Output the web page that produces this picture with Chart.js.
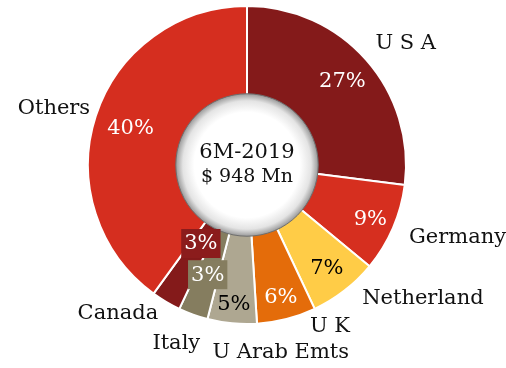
<!DOCTYPE html>
<html>
<head>
<meta charset="utf-8">
<script src="https://cdn.jsdelivr.net/npm/chart.js@4.4.1/dist/chart.umd.min.js"></script>
<style>
  html, body { margin: 0; padding: 0; background: #fff; }
  #wrap { width: 506px; height: 368px; }
</style>
</head>
<body>
<div id="wrap"><canvas id="exportChart"></canvas></div>
<script>
// Export share by destination, 6M-2019
const countries = ['U S A', 'Germany', 'Netherland', 'U K', 'U Arab Emts', 'Italy', 'Canada', 'Others'];
const shares = [27, 9, 7, 6, 5, 3, 3, 40];
const centerTitle = '6M-2019';
const centerTotal = '$ 948 Mn';

const sliceColors = ['#841a1a', '#d62f1f', '#ffcc47', '#e46c0a', '#aea791', '#857d5f', '#841a1a', '#d52e1f'];
const pctColors = ['#fff', '#fff', '#000', '#fff', '#000', '#fff', '#fff', '#fff'];
const pctBoxes = [null, null, null, null, null, '#857d5f', '#8b1c1c', null];
// label radius as a fraction of the outer radius
const pctRadius = [0.80, 0.845, 0.82, 0.855, 0.875, 0.73, 0.57, 0.77];
// small nudges for the outside category names
const nameNudge = [[-4, -5], [0, 2], [7, -6], [19, -9], [-18, 12], [13, 12], [1, -3], [11, -2]];

const FONT = '"DejaVu Serif", Georgia, serif';

const donutLabels = {
  id: 'donutLabels',
  afterDatasetsDraw(chart) {
    const ctx = chart.ctx;
    const arcs = chart.getDatasetMeta(0).data;
    if (!arcs.length) return;
    const first = arcs[0].getProps(['x', 'y', 'innerRadius', 'outerRadius'], true);
    const cx = first.x, cy = first.y, R = first.outerRadius;

    // centre disc with soft inner shading
    const r = first.innerRadius * 1.12;
    ctx.save();
    const g = ctx.createRadialGradient(cx, cy, 0, cx, cy, r);
    g.addColorStop(0, '#ffffff');
    g.addColorStop(0.74, '#ffffff');
    g.addColorStop(0.9, '#e4e4e4');
    g.addColorStop(1, '#9a9a9a');
    ctx.beginPath();
    ctx.arc(cx, cy, r, 0, Math.PI * 2);
    ctx.fillStyle = g;
    ctx.fill();
    ctx.lineWidth = 1;
    ctx.strokeStyle = '#6e6e6e';
    ctx.stroke();

    ctx.fillStyle = '#111';
    ctx.textAlign = 'center';
    ctx.textBaseline = 'middle';
    ctx.font = '21px ' + FONT;
    ctx.fillText(centerTitle, cx, cy - 12);
    ctx.font = '19px ' + FONT;
    ctx.fillText(centerTotal, cx, cy + 12);

    arcs.forEach((arc, i) => {
      const p = arc.getProps(['startAngle', 'endAngle'], true);
      const mid = (p.startAngle + p.endAngle) / 2;
      const cos = Math.cos(mid), sin = Math.sin(mid);

      // percentage inside the slice
      const pr = R * pctRadius[i];
      const px = cx + cos * pr, py = cy + sin * pr;
      const txt = shares[i] + '%';
      ctx.font = '21px ' + FONT;
      if (pctBoxes[i]) {
        const w = ctx.measureText(txt).width + 6;
        ctx.fillStyle = pctBoxes[i];
        ctx.fillRect(px - w / 2, py - 14, w, 29);
      }
      ctx.fillStyle = pctColors[i];
      ctx.textAlign = 'center';
      ctx.fillText(txt, px, py + 1);

      // category name outside the ring
      const nr = R * 1.11;
      const nx = cx + cos * nr + nameNudge[i][0];
      const ny = cy + sin * nr + nameNudge[i][1];
      ctx.fillStyle = '#111';
      ctx.textAlign = cos > -0.1 ? 'left' : 'right';
      ctx.fillText(countries[i], nx, ny);
    });
    ctx.restore();
  }
};

new Chart(document.getElementById('exportChart'), {
  type: 'doughnut',
  data: {
    labels: countries,
    datasets: [{
      data: shares,
      backgroundColor: sliceColors,
      borderColor: '#ffffff',
      borderWidth: 2
    }]
  },
  options: {
    responsive: true,
    maintainAspectRatio: false,
    animation: false,
    cutout: '40%',
    layout: { padding: { left: 87, right: 99, top: 5, bottom: 43 } },
    plugins: {
      legend: { display: false },
      tooltip: { enabled: false }
    }
  },
  plugins: [donutLabels]
});
</script>
</body>
</html>
